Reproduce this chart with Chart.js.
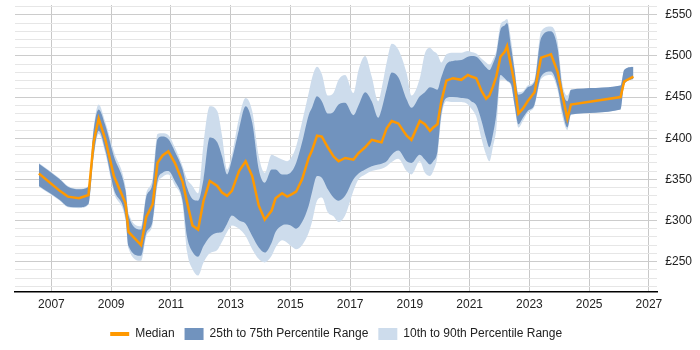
<!DOCTYPE html>
<html>
<head>
<meta charset="utf-8">
<script src="https://cdn.jsdelivr.net/npm/chart.js@4/dist/chart.umd.min.js"></script>
<style>
  html, body { margin: 0; padding: 0; background: #fff; }
  #wrap { width: 700px; height: 350px; }
</style>
</head>
<body>
<div id="wrap"><canvas id="rateChart"></canvas></div>
<script>
// fractional years of each sample
const years = [
  2006.58, 2007.28, 2007.55, 2007.92, 2008.24, 2008.41, 2008.58, 2008.8, 2009.09, 2009.48,
  2009.58, 2010.0, 2010.17, 2010.39, 2010.55, 2010.72, 2010.91, 2011.13, 2011.39, 2011.54,
  2011.72, 2011.91, 2012.09, 2012.3, 2012.55, 2012.71, 2012.88, 2013.04, 2013.28, 2013.5,
  2013.72, 2013.94, 2014.14, 2014.37, 2014.5, 2014.72, 2014.89, 2015.05, 2015.19, 2015.39,
  2015.61, 2015.72, 2015.89, 2016.05, 2016.25, 2016.44, 2016.61, 2016.83, 2017.11, 2017.28,
  2017.5, 2017.72, 2017.94, 2018.05, 2018.22, 2018.39, 2018.61, 2018.89, 2019.05, 2019.33,
  2019.5, 2019.67, 2019.78, 2019.92, 2020.05, 2020.22, 2020.44, 2020.72, 2020.94, 2021.05,
  2021.22, 2021.39, 2021.55, 2021.66, 2021.78, 2021.89, 2022.03, 2022.17, 2022.25, 2022.39,
  2022.5, 2022.63, 2022.78, 2022.94, 2023.17, 2023.39, 2023.72, 2023.94, 2024.1, 2024.27,
  2024.39, 2026.05, 2026.17, 2026.48
]
const median = [
  357, 336, 329, 327, 331, 395, 424, 399, 354, 321,
  286, 270, 304, 320, 370, 379, 384, 370, 347, 322,
  294, 289, 324, 348, 342, 334, 330, 336, 360, 372,
  354, 318, 301, 312, 327, 333, 329, 332, 335, 350,
  376, 385, 403, 402, 389, 378, 372, 376, 374, 382,
  389, 398, 396, 395, 412, 421, 418, 403, 398, 421,
  417, 409, 413, 417, 445, 470, 473, 471, 477, 475,
  473, 458, 448, 452, 463, 475, 499, 505, 512, 487,
  467, 430, 436, 445, 456, 498, 502, 481, 453, 424,
  441, 450, 469, 475
]
const p25 = [
  342, 325, 317, 316, 320, 378, 409, 386, 338, 304,
  269, 257, 284, 300, 348, 358, 360, 348, 324, 280,
  262, 256, 269, 280, 285, 286, 296, 306, 300, 296,
  281, 267, 261, 273, 286, 294, 295, 293, 290, 298,
  318, 334, 354, 352, 338, 328, 324, 330, 350, 357,
  362, 366, 368, 369, 372, 380, 385, 372, 370, 380,
  374, 368, 372, 384, 430, 449, 450, 449, 448, 445,
  440, 422, 400, 389, 405, 429, 477, 473, 470, 465,
  441, 417, 425, 433, 441, 475, 481, 463, 433, 413,
  429, 435, 465, 472
]
const p75 = [
  369, 350, 341, 338, 341, 409, 435, 416, 378, 336,
  306, 289, 328, 346, 399, 402, 399, 384, 362, 340,
  326, 324, 350, 401, 395, 378, 356, 374, 411, 439,
  419, 362, 346, 362, 362, 356, 356, 360, 370, 395,
  428, 437, 451, 445, 430, 432, 441, 443, 428, 440,
  456, 445, 425, 435, 460, 480, 474, 447, 437, 451,
  456, 462, 461, 459, 474, 490, 494, 495, 499, 500,
  499, 493, 486, 483, 491, 502, 532, 537, 540, 510,
  483, 453, 455, 462, 469, 522, 530, 510, 461, 445,
  459, 464, 483, 487
]
const p10 = [
  341, 324, 316, 315, 319, 376, 405, 382, 334, 300,
  266, 251, 280, 296, 343, 353, 356, 343, 319, 262,
  241, 233, 249, 260, 264, 274, 286, 294, 290, 281,
  265, 253, 249, 257, 267, 276, 273, 268, 265, 270,
  285, 298, 324, 328, 310, 305, 298, 306, 336, 350,
  356, 360, 362, 363, 366, 371, 375, 360, 356, 372,
  358, 354, 360, 378, 425, 445, 444, 444, 441, 436,
  426, 400, 380, 372, 390, 411, 471, 471, 469, 463,
  439, 413, 421, 431, 439, 472, 477, 459, 427, 410,
  429, 435, 465, 472
]
const p90 = [
  370, 351, 342, 339, 342, 412, 441, 420, 384, 341,
  309, 293, 332, 352, 405, 406, 404, 389, 366, 350,
  342, 333, 393, 439, 433, 403, 362, 380, 425, 449,
  433, 378, 358, 380, 378, 374, 372, 378, 390, 420,
  455, 473, 487, 478, 452, 455, 471, 477, 455, 483,
  500, 475, 445, 460, 492, 515, 508, 479, 452, 473,
  503, 510, 506, 502, 492, 502, 504, 504, 506, 505,
  503, 497, 492, 489, 496, 506, 538, 543, 545, 518,
  486, 456, 457, 464, 471, 530, 536, 518, 467, 452,
  459, 464, 483, 487
]
const yearTicks = [2007, 2009, 2011, 2013, 2015, 2017, 2019, 2021, 2023, 2025, 2027]
const rateTicks = [220, 230, 240, 250, 260, 270, 280, 290, 300, 310, 320, 330, 340, 350,
  360, 370, 380, 390, 400, 410, 420, 430, 440, 450, 460, 470, 480, 490, 500, 510, 520,
  530, 540, 550, 560]

const toPoints = values => years.map((yr, i) => ({ x: yr, y: values[i] }))

const darkBand = '#7193be'
const lightBand = '#cddcec'

Chart.defaults.font.family = '"Liberation Sans", Arial, sans-serif'
Chart.defaults.font.size = 12
Chart.defaults.color = '#222'

const ctx = document.getElementById('rateChart')

let config = {
  type: 'line',
  data: {
    datasets: [{
      label: 'Median',
      data: toPoints(median),
      borderColor: '#ff9900',
      backgroundColor: '#ff9900',
      borderWidth: 2.5,
      pointRadius: 0,
      tension: 0,
      fill: false,
      pointStyle: 'line',
      order: 0
    }, {
      label: '25th to 75th Percentile Range',
      data: toPoints(p75),
      borderWidth: 0,
      pointRadius: 0,
      cubicInterpolationMode: 'monotone',
      backgroundColor: darkBand,
      borderColor: darkBand,
      fill: '+1',
      pointStyle: 'rect',
      order: 1
    }, {
      label: 'p25',
      data: toPoints(p25),
      borderWidth: 0,
      pointRadius: 0,
      cubicInterpolationMode: 'monotone',
      fill: false,
      order: 1
    }, {
      label: '10th to 90th Percentile Range',
      data: toPoints(p90),
      borderWidth: 0,
      pointRadius: 0,
      cubicInterpolationMode: 'monotone',
      backgroundColor: lightBand,
      borderColor: lightBand,
      fill: '+1',
      pointStyle: 'rect',
      order: 2
    }, {
      label: 'p10',
      data: toPoints(p10),
      borderWidth: 0,
      pointRadius: 0,
      cubicInterpolationMode: 'monotone',
      fill: false,
      order: 2
    }]
  },

  options: {
    responsive: true,
    maintainAspectRatio: false,
    animation: false,
    layout: { padding: { left: 15, top: 5, right: 0, bottom: 0 } },
    plugins: {
      tooltip: { enabled: false },
      legend: {
        position: 'bottom',
        fullSize: false,
        labels: {
          usePointStyle: true,
          pointStyleWidth: 19,
          boxHeight: 12,
          padding: 10,
          color: '#222',
          font: { size: 12 },
          generateLabels: chart => Chart.defaults.plugins.legend.labels.generateLabels(chart)
            .filter(item => item.text !== 'p25' && item.text !== 'p10')
            .map(item => {
              if (item.datasetIndex === 0) {
                item.lineWidth = 4
                item.strokeStyle = '#ff9900'
              } else {
                item.lineWidth = 0
              }
              return item
            })
        }
      }
    },
    scales: {
      x: {
        type: 'linear',
        min: 2005.78,
        max: 2027.28,
        afterBuildTicks: axis => { axis.ticks = yearTicks.map(v => ({ value: v })) },
        grid: { color: '#c8c8c8', drawTicks: false },
        border: { display: true, color: '#000', width: 1.5 },
        ticks: {
          autoSkip: false,
          maxRotation: 0,
          padding: 6,
          color: '#222',
          callback: value => String(value)
        }
      },
      y: {
        position: 'right',
        min: 213.5,
        max: 562,
        afterBuildTicks: axis => { axis.ticks = rateTicks.map(v => ({ value: v })) },
        afterFit: axis => { axis.paddingTop = 0 },
        grid: {
          drawTicks: false,
          color: c => (c.tick && c.tick.value % 50 === 0) ? '#cccccc' : '#e6e6e6'
        },
        border: { display: false },
        ticks: {
          autoSkip: false,
          padding: 8,
          color: '#222',
          callback: value => value % 50 === 0 ? `£${value}` : ''
        }
      }
    }
  }
};
let rateChart = new Chart(ctx, config)
</script>
</body>
</html>
